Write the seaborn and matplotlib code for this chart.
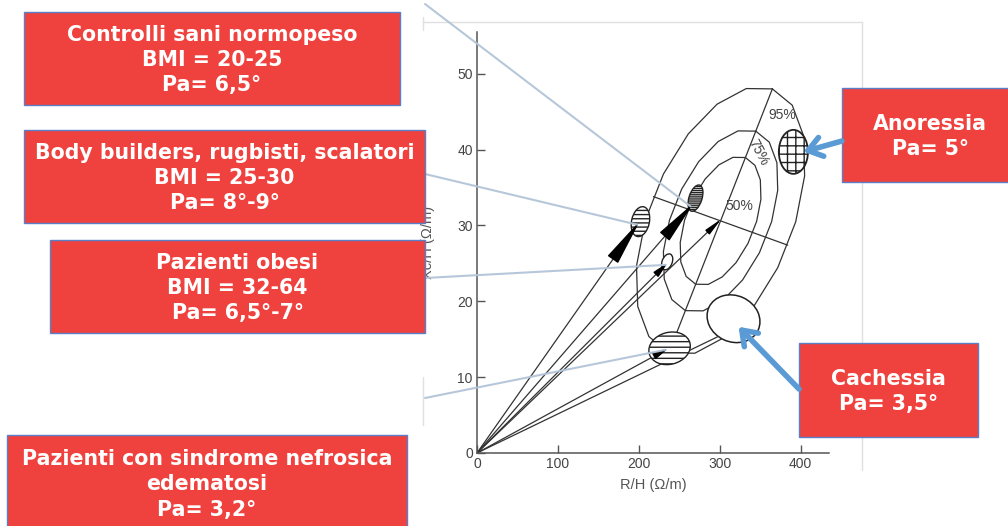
import numpy as np
import pandas as pd
import matplotlib
matplotlib.use("Agg")
import matplotlib.pyplot as plt
from matplotlib.patches import Ellipse, Rectangle
from matplotlib.transforms import IdentityTransform
import seaborn as sns

# ---------------- data ----------------
# tolerance ellipses of the RXc graph (R/H, Xc/H in ohm/m)
ell_center = [301.0, 30.6]
ell_major = [64.0, 17.4]      # semi-axis vector of the 95% ellipse
ell_minor = [83.0, -3.2]      # conjugate semi-axis vector of the 95% ellipse
ell_levels = ["50%", "75%", "95%"]
ell_scales = [0.48, 0.68, 1.0]

# mean impedance vectors drawn from the origin
vec_names = ["Body builders", "Controlli", "Riferimento", "Obesi", "Nefrosica", "Cachessia"]
vec_R = [198.0, 264.0, 298.5, 233.0, 233.0, 297.0]
vec_Xc = [30.1, 32.5, 30.5, 24.8, 13.6, 15.3]
vec_wedge_from = [0.85, 0.88, 0.955, 0.95, 0.94, None]

# group confidence ellipses
grp_names = ["Body builders", "Controlli", "Obesi", "Nefrosica", "Cachessia", "Anoressia"]
grp_R = [202.0, 270.0, 235.0, 238.0, 317.0, 391.0]
grp_Xc = [30.5, 33.6, 25.2, 13.8, 17.7, 39.7]
grp_spread_R = [22.0, 16.0, 12.4, 52.0, 67.0, 36.0]
grp_spread_Xc = [4.0, 3.6, 2.2, 4.2, 6.1, 5.8]

x_ticks = [0, 100, 200, 300, 400]
y_ticks = [0, 10, 20, 30, 40, 50]
x_label = "R/H (Ω/m)"
y_label = "Xc/H (Ω/m)"

box_texts = [
    "Controlli sani normopeso\nBMI = 20-25\nPa= 6,5°",
    "Body builders, rugbisti, scalatori\nBMI = 25-30\nPa= 8°-9°",
    "Pazienti obesi\nBMI = 32-64\nPa= 6,5°-7°",
    "Pazienti con sindrome nefrosica\nedematosi\nPa= 3,2°",
    "Anoressia\nPa= 5°",
    "Cachessia\nPa= 3,5°",
]

# ---------------- styling / layout ----------------
W, H = 1008, 526
sns.set_theme(style="ticks")
plt.rcParams["font.family"] = ["Liberation Sans", "DejaVu Sans"]
plt.rcParams["hatch.linewidth"] = 1.0

fig = plt.figure(figsize=(W / 100, H / 100), dpi=100)
fig.patch.set_facecolor("white")
ax_l, ax_r, ax_t, ax_b = 477, 829, 32, 453
ax = fig.add_axes([ax_l / W, 1 - ax_b / H, (ax_r - ax_l) / W, (ax_b - ax_t) / H])
ax.set_facecolor("none")

line_col = "#333333"

# tolerance ellipses (polygonal, as in the original figure)
t = np.linspace(0, 2 * np.pi, 19)
cx, cy = ell_center
for lvl, s in zip(ell_levels, ell_scales):
    ex = cx + s * (ell_major[0] * np.cos(t) + ell_minor[0] * np.sin(t))
    ey = cy + s * (ell_major[1] * np.cos(t) + ell_minor[1] * np.sin(t))
    ax.plot(ex, ey, color=line_col, lw=0.9, zorder=2)
ax.plot([cx - ell_major[0], cx + ell_major[0]], [cy - ell_major[1], cy + ell_major[1]],
        color=line_col, lw=0.9, zorder=2)
ax.plot([cx - ell_minor[0], cx + ell_minor[0]], [cy - ell_minor[1], cy + ell_minor[1]],
        color=line_col, lw=0.9, zorder=2)

# vectors from origin
rows = []
for n, r, xc in zip(vec_names, vec_R, vec_Xc):
    rows.append((n, 0.0, 0.0))
    rows.append((n, r, xc))
df = pd.DataFrame(rows, columns=["gruppo", "R", "Xc"])
sns.lineplot(data=df, x="R", y="Xc", units="gruppo", estimator=None, sort=False,
             color=line_col, lw=0.9, ax=ax, legend=False, zorder=2)

ax.set_xlim(0, 435)
ax.set_ylim(0, 55.5)
ax.set_xticks(x_ticks)
ax.set_yticks(y_ticks)
sns.despine(ax=ax)
for sp in ["left", "bottom"]:
    ax.spines[sp].set_color("#555555")
    ax.spines[sp].set_linewidth(1.1)
ax.tick_params(direction="in", length=6, width=1.0, color="#555555",
               labelsize=10, labelcolor="#444444", pad=3)
ax.set_xlabel(x_label, fontsize=10.5, color="#555555")
ax.set_ylabel(y_label, fontsize=10.5, color="#555555")
ax.xaxis.set_label_coords(0.5, (ax_b - 478) / (ax_b - ax_t))
ax.yaxis.set_label_coords((435 - ax_l) / (ax_r - ax_l), 0.5)

# percentage labels
ax.text(377.7, 44.6, "95%", fontsize=10, color="#444444", ha="center", va="center", zorder=3)
ax.text(348, 39.6, "75%", fontsize=10, color="#444444", ha="center", va="center",
        rotation=-62, zorder=3)
ax.text(324.5, 32.6, "50%", fontsize=10, color="#444444", ha="center", va="center", zorder=3)

# group ellipses (drawn in display space so that tilt is visual)
sx = (ax_r - ax_l) / 435.0
sy = (ax_b - ax_t) / 55.5
grp_angle = [-12, -18, -22, 15, -25, 0]
grp_hatch = ["----", "--------", None, "---", None, "++"]
grp_lw = [1.0, 1.0, 1.0, 1.0, 1.1, 1.3]
for i in range(len(grp_names)):
    cpx = ax.transData.transform((grp_R[i], grp_Xc[i]))
    wpx, hpx = grp_spread_R[i] * sx, grp_spread_Xc[i] * sy
    if hpx > wpx:
        e = Ellipse(cpx, hpx, wpx, angle=90 + grp_angle[i])
    else:
        e = Ellipse(cpx, wpx, hpx, angle=grp_angle[i])
    e.set_transform(IdentityTransform())
    e.set(facecolor="white", edgecolor="#222222", lw=grp_lw[i], hatch=grp_hatch[i],
          zorder=4, clip_on=False)
    ax.add_patch(e)

# black wedge arrows for mean vectors
wedge_tail = [0.8, 0.8, 0.35, 0.4, 0.4, None]
for r, xc, f, tw in zip(vec_R, vec_Xc, vec_wedge_from, wedge_tail):
    if f is None:
        continue
    ax.annotate("", xy=(r, xc), xytext=(f * r, f * xc),
                arrowprops=dict(arrowstyle=f"wedge,tail_width={tw},shrink_factor=0.5",
                                color="black", shrinkA=0, shrinkB=0, mutation_scale=10),
                zorder=5)

# ---------------- overlay in pixel coordinates ----------------
ov = fig.add_axes([0, 0, 1, 1])
ov.set_xlim(0, W)
ov.set_ylim(H, 0)
ov.axis("off")
ov.patch.set_alpha(0)


def to_px(x, y):
    d = ax.transData.transform((x, y))
    return ov.transData.inverted().transform(d)


# faint frame of the pasted picture
frame_col = "#E0E0E0"
ov.plot([423, 862], [22, 22], color=frame_col, lw=1, zorder=1)
ov.plot([423, 423], [17, 30], color=frame_col, lw=1, zorder=1)
ov.plot([423, 423], [377, 425], color=frame_col, lw=1, zorder=1)
ov.plot([862, 862], [22, 470], color=frame_col, lw=1, zorder=1)

# leader lines from the boxes to the groups
leader_col = "#B3C4D8"
leaders = [((425, 4), 1), ((425, 174), 0), ((425, 278), 3), ((425, 398), 4)]
for (bx, by), vi in leaders:
    tx, ty = to_px(vec_R[vi], vec_Xc[vi])
    ov.plot([bx, tx], [by, ty], color=leader_col, lw=1.5, alpha=0.95,
            solid_capstyle="round", zorder=2)

# red boxes
box_rects = [(24, 12, 400, 105), (24, 130, 425, 223), (50, 240, 425, 333),
             (7, 435, 407, 531), (842, 88, 1018, 182), (799, 343, 978, 437)]
red = "#EF413D"
for (x0, y0, x1, y1), txt in zip(box_rects, box_texts):
    ov.add_patch(Rectangle((x0, y0), x1 - x0, y1 - y0, facecolor=red,
                           edgecolor="#5B7FC7", lw=1.0, zorder=5))
    ov.text((x0 + x1) / 2, (y0 + y1) / 2 + 1.5, txt, ha="center", va="center",
            color="white", fontsize=14.8, fontweight="bold", family="DejaVu Sans",
            linespacing=1.33, zorder=6)

# blue arrows to anorexia and cachexia
blue = "#5B9BD5"
for (bx, by), gi, off in [((842, 141), 5, (10, 0)), ((799, 389), 4, (5, 8))]:
    tx, ty = to_px(grp_R[gi], grp_Xc[gi])
    ov.annotate("", xy=(tx + off[0], ty + off[1]), xytext=(bx, by),
                arrowprops=dict(arrowstyle="->,head_length=0.7,head_width=0.5",
                                color=blue, lw=4, shrinkA=0, shrinkB=0,
                                mutation_scale=14), zorder=7)

fig.savefig("out.png", dpi=100, facecolor="white")
